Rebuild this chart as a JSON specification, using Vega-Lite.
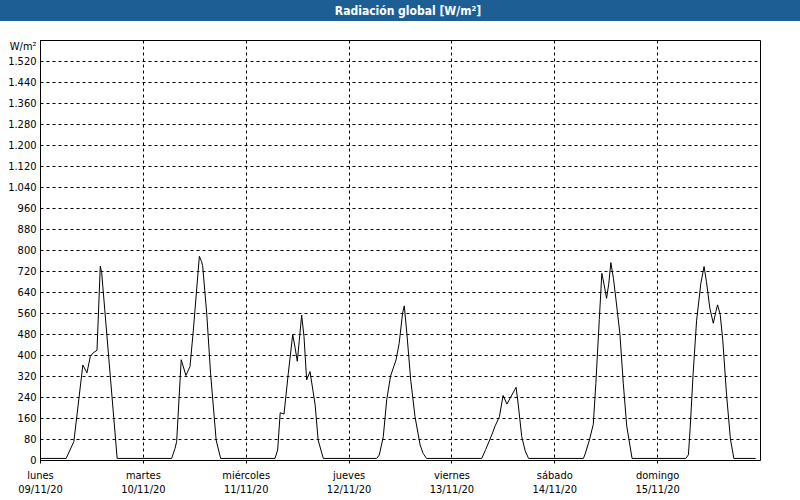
{
  "$schema": "https://vega.github.io/schema/vega-lite/v6.json",
  "padding": 0,
  "background": "#ffffff",
  "spacing": 19,
  "bounds": "flush",
  "center": true,
  "config": {
    "font": "DejaVu Sans Condensed, DejaVu Sans, sans-serif",
    "view": {"stroke": null},
    "axis": {
      "gridColor": "#000000",
      "gridDash": [3, 3],
      "gridOpacity": 1,
      "gridWidth": 1,
      "domainColor": "#000000",
      "domainWidth": 1,
      "tickColor": "#000000",
      "labelColor": "#000000",
      "labelFont": "DejaVu Sans Condensed, DejaVu Sans, sans-serif",
      "labelFontSize": 11,
      "labelOverlap": false,
      "labelBound": false,
      "labelFlush": false
    }
  },
  "datasets": {
    "titulo": [{"texto": "Radiación global [W/m²]"}],
    "radiacion": [
      {"t": "2020-11-09T00:00:00Z", "v": 6},
      {"t": "2020-11-09T06:06:00Z", "v": 6},
      {"t": "2020-11-09T07:54:00Z", "v": 70},
      {"t": "2020-11-09T10:00:00Z", "v": 362},
      {"t": "2020-11-09T10:57:00Z", "v": 332},
      {"t": "2020-11-09T11:45:00Z", "v": 395},
      {"t": "2020-11-09T12:24:00Z", "v": 408},
      {"t": "2020-11-09T13:18:00Z", "v": 418},
      {"t": "2020-11-09T14:04:00Z", "v": 738},
      {"t": "2020-11-09T14:23:00Z", "v": 715},
      {"t": "2020-11-09T18:00:00Z", "v": 6},
      {"t": "2020-11-10T06:43:00Z", "v": 6},
      {"t": "2020-11-10T07:30:00Z", "v": 44},
      {"t": "2020-11-10T07:53:00Z", "v": 70},
      {"t": "2020-11-10T08:57:00Z", "v": 382},
      {"t": "2020-11-10T10:03:00Z", "v": 322},
      {"t": "2020-11-10T11:00:00Z", "v": 356},
      {"t": "2020-11-10T11:47:00Z", "v": 495},
      {"t": "2020-11-10T13:11:00Z", "v": 776},
      {"t": "2020-11-10T13:42:00Z", "v": 756},
      {"t": "2020-11-10T13:57:00Z", "v": 740},
      {"t": "2020-11-10T14:54:00Z", "v": 559},
      {"t": "2020-11-10T15:48:00Z", "v": 330},
      {"t": "2020-11-10T17:06:00Z", "v": 76},
      {"t": "2020-11-10T18:09:00Z", "v": 6},
      {"t": "2020-11-11T06:50:00Z", "v": 6},
      {"t": "2020-11-11T07:27:00Z", "v": 38},
      {"t": "2020-11-11T08:03:00Z", "v": 180},
      {"t": "2020-11-11T08:56:00Z", "v": 175},
      {"t": "2020-11-11T09:56:00Z", "v": 330},
      {"t": "2020-11-11T10:58:00Z", "v": 478},
      {"t": "2020-11-11T11:30:00Z", "v": 430},
      {"t": "2020-11-11T12:02:00Z", "v": 376},
      {"t": "2020-11-11T12:30:00Z", "v": 455},
      {"t": "2020-11-11T13:03:00Z", "v": 552},
      {"t": "2020-11-11T13:36:00Z", "v": 470},
      {"t": "2020-11-11T14:13:00Z", "v": 305},
      {"t": "2020-11-11T15:00:00Z", "v": 337},
      {"t": "2020-11-11T16:12:00Z", "v": 210},
      {"t": "2020-11-11T16:54:00Z", "v": 76},
      {"t": "2020-11-11T18:06:00Z", "v": 6},
      {"t": "2020-11-12T06:34:00Z", "v": 6},
      {"t": "2020-11-12T07:10:00Z", "v": 19},
      {"t": "2020-11-12T08:06:00Z", "v": 89},
      {"t": "2020-11-12T08:54:00Z", "v": 229},
      {"t": "2020-11-12T09:48:00Z", "v": 320},
      {"t": "2020-11-12T11:04:00Z", "v": 381},
      {"t": "2020-11-12T11:48:00Z", "v": 444},
      {"t": "2020-11-12T12:36:00Z", "v": 559},
      {"t": "2020-11-12T13:00:00Z", "v": 587},
      {"t": "2020-11-12T13:36:00Z", "v": 483},
      {"t": "2020-11-12T14:30:00Z", "v": 305},
      {"t": "2020-11-12T15:30:00Z", "v": 165},
      {"t": "2020-11-12T16:42:00Z", "v": 57},
      {"t": "2020-11-12T17:24:00Z", "v": 25},
      {"t": "2020-11-12T18:12:00Z", "v": 6},
      {"t": "2020-11-13T07:04:00Z", "v": 6},
      {"t": "2020-11-13T08:00:00Z", "v": 40},
      {"t": "2020-11-13T09:24:00Z", "v": 95},
      {"t": "2020-11-13T10:12:00Z", "v": 130},
      {"t": "2020-11-13T11:12:00Z", "v": 165},
      {"t": "2020-11-13T12:03:00Z", "v": 246},
      {"t": "2020-11-13T12:57:00Z", "v": 213},
      {"t": "2020-11-13T15:05:00Z", "v": 277},
      {"t": "2020-11-13T15:36:00Z", "v": 210},
      {"t": "2020-11-13T16:24:00Z", "v": 90},
      {"t": "2020-11-13T17:12:00Z", "v": 35},
      {"t": "2020-11-13T18:00:00Z", "v": 6},
      {"t": "2020-11-14T06:48:00Z", "v": 6},
      {"t": "2020-11-14T07:12:00Z", "v": 23},
      {"t": "2020-11-14T08:12:00Z", "v": 76},
      {"t": "2020-11-14T09:06:00Z", "v": 136},
      {"t": "2020-11-14T09:42:00Z", "v": 292},
      {"t": "2020-11-14T10:30:00Z", "v": 535},
      {"t": "2020-11-14T11:06:00Z", "v": 711},
      {"t": "2020-11-14T11:36:00Z", "v": 670},
      {"t": "2020-11-14T12:12:00Z", "v": 616},
      {"t": "2020-11-14T12:42:00Z", "v": 670},
      {"t": "2020-11-14T13:12:00Z", "v": 752},
      {"t": "2020-11-14T13:48:00Z", "v": 692},
      {"t": "2020-11-14T14:24:00Z", "v": 610},
      {"t": "2020-11-14T15:18:00Z", "v": 483},
      {"t": "2020-11-14T16:06:00Z", "v": 292},
      {"t": "2020-11-14T16:54:00Z", "v": 130},
      {"t": "2020-11-14T18:09:00Z", "v": 6},
      {"t": "2020-11-15T06:42:00Z", "v": 6},
      {"t": "2020-11-15T07:18:00Z", "v": 20},
      {"t": "2020-11-15T07:42:00Z", "v": 120},
      {"t": "2020-11-15T08:24:00Z", "v": 330},
      {"t": "2020-11-15T09:12:00Z", "v": 530},
      {"t": "2020-11-15T10:12:00Z", "v": 673},
      {"t": "2020-11-15T10:57:00Z", "v": 737},
      {"t": "2020-11-15T11:30:00Z", "v": 680},
      {"t": "2020-11-15T12:18:00Z", "v": 578},
      {"t": "2020-11-15T13:06:00Z", "v": 521},
      {"t": "2020-11-15T13:42:00Z", "v": 565},
      {"t": "2020-11-15T14:06:00Z", "v": 591},
      {"t": "2020-11-15T14:42:00Z", "v": 555},
      {"t": "2020-11-15T15:18:00Z", "v": 460},
      {"t": "2020-11-15T16:12:00Z", "v": 248},
      {"t": "2020-11-15T17:06:00Z", "v": 80},
      {"t": "2020-11-15T17:54:00Z", "v": 6},
      {"t": "2020-11-15T23:00:00Z", "v": 6}
    ]
  },
  "vconcat": [
    {
      "width": 800,
      "height": 21,
      "view": {"fill": "#1d5f95", "stroke": null},
      "data": {"name": "titulo"},
      "mark": {
        "type": "text",
        "color": "#ffffff",
        "fontWeight": "bold",
        "fontSize": 12,
        "baseline": "middle",
        "align": "center",
        "dx": 8,
        "font": "DejaVu Sans Condensed, DejaVu Sans, sans-serif"
      },
      "encoding": {"text": {"field": "texto", "type": "nominal"}}
    },
    {
      "width": 720,
      "height": 420,
      "view": {"fill": "#ffffff", "stroke": "#000000", "strokeWidth": 1},
      "data": {"name": "radiacion"},
      "mark": {"type": "line", "color": "#000000", "strokeWidth": 1, "interpolate": "linear"},
      "encoding": {
        "x": {
          "field": "t",
          "type": "temporal",
          "scale": {
            "type": "utc",
            "domain": [
              {"year": 2020, "month": 11, "date": 9, "utc": true},
              {"year": 2020, "month": 11, "date": 16, "utc": true}
            ]
          },
          "axis": {
            "title": null,
            "values": [
              {"year": 2020, "month": 11, "date": 9, "utc": true},
              {"year": 2020, "month": 11, "date": 10, "utc": true},
              {"year": 2020, "month": 11, "date": 11, "utc": true},
              {"year": 2020, "month": 11, "date": 12, "utc": true},
              {"year": 2020, "month": 11, "date": 13, "utc": true},
              {"year": 2020, "month": 11, "date": 14, "utc": true},
              {"year": 2020, "month": 11, "date": 15, "utc": true}
            ],
            "labelExpr": "[['domingo','lunes','martes','miércoles','jueves','viernes','sábado'][utcday(datum.value)], utcFormat(datum.value, '%d/%m/%y')]",
            "labelAlign": "center",
            "labelBaseline": "top",
            "labelLineHeight": 14,
            "labelPadding": 6,
            "ticks": true,
            "tickSize": 3,
            "grid": true
          }
        },
        "y": {
          "field": "v",
          "type": "quantitative",
          "scale": {"domain": [0, 1600], "nice": false, "zero": true},
          "axis": {
            "values": [0, 80, 160, 240, 320, 400, 480, 560, 640, 720, 800, 880, 960, 1040, 1120, 1200, 1280, 1360, 1440, 1520],
            "labelExpr": "replace(format(datum.value, ','), ',', '.')",
            "ticks": false,
            "labelPadding": 4,
            "grid": true,
            "title": "W/m²",
            "titleAngle": 0,
            "titleAlign": "right",
            "titleBaseline": "middle",
            "titleX": -4,
            "titleY": 6,
            "titleFontWeight": "normal",
            "titleFontSize": 11,
            "titleColor": "#000000",
            "titleFont": "DejaVu Sans Condensed, DejaVu Sans, sans-serif"
          }
        }
      }
    }
  ]
}
